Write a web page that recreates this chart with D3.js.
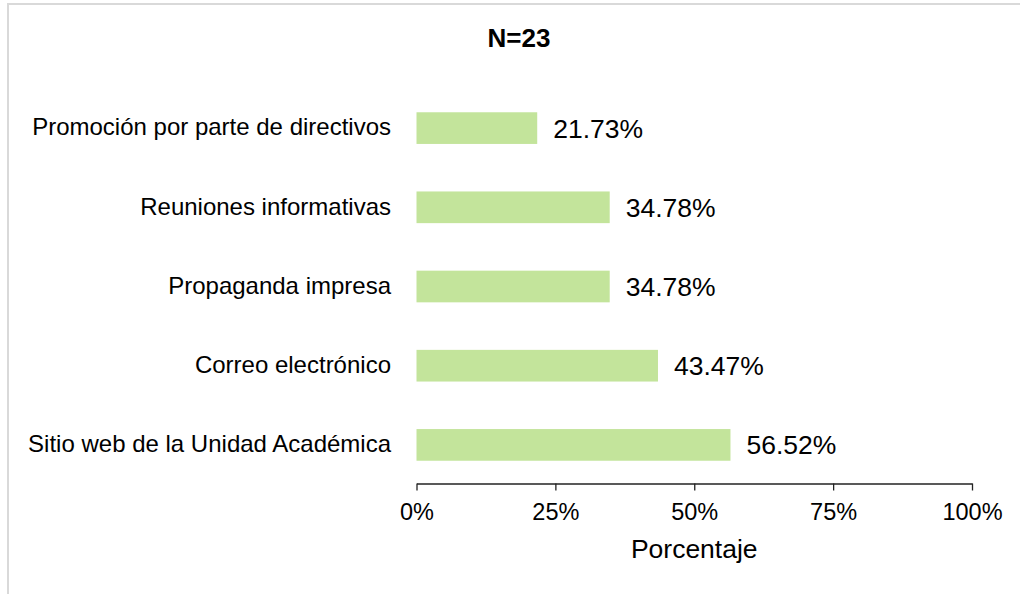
<!DOCTYPE html>
<html>
<head>
<meta charset="utf-8">
<script src="https://cdn.jsdelivr.net/npm/d3@7"></script>
<style>
  body { margin: 0; background: #fff; }
  svg text { font-family: "Liberation Sans", Arial, sans-serif; fill: #000; }
</style>
</head>
<body>
<svg id="plot" width="1020" height="594"></svg>
<script>
// chart data
const CATEGORIES = ['Promoción por parte de directivos', 'Reuniones informativas', 'Propaganda impresa', 'Correo electrónico', 'Sitio web de la Unidad Académica'];
const VALUES = [21.73, 34.78, 34.78, 43.47, 56.52];
const TICKS = [0, 25, 50, 75, 100];
const TITLE = 'N=23';
const X_TITLE = 'Porcentaje';

const svg = d3.select('#plot');

// light frame, only top and left edges fall inside the window
svg.append('rect')
    .attr('x', 8).attr('y', 4)
    .attr('width', 1030).attr('height', 620)
    .attr('fill', 'none')
    .attr('stroke', '#d9d9d9')
    .attr('stroke-width', 2);

const x = d3.scaleLinear().domain([0, 100]).range([416.5, 972]);
const y = d3.scaleBand()
    .domain(CATEGORIES)
    .range([88.5, 484.5])
    .paddingInner(0.6)
    .paddingOuter(0.3);

svg.selectAll('rect.bar')
    .data(VALUES)
    .enter()
    .append('rect')
        .attr('class', 'bar')
        .attr('x', x(0))
        .attr('y', (d, i) => y(CATEGORIES[i]))
        .attr('width', d => x(d) - x(0))
        .attr('height', y.bandwidth())
        .attr('fill', '#c3e49b');

// value labels
svg.selectAll('text.val')
    .data(VALUES)
    .enter()
    .append('text')
        .attr('class', 'val')
        .attr('x', d => x(d) + 16)
        .attr('y', (d, i) => y(CATEGORIES[i]) + y.bandwidth() / 2)
        .attr('dy', '0.36em')
        .style('font-size', '26.5px')
        .text(d => d.toFixed(2) + '%');

// category labels
svg.selectAll('text.cat')
    .data(CATEGORIES)
    .enter()
    .append('text')
        .attr('class', 'cat')
        .attr('x', 391)
        .attr('y', d => y(d) + y.bandwidth() / 2)
        .attr('dy', '0.3em')
        .attr('text-anchor', 'end')
        .style('font-size', '24px')
        .text(d => d);

// x axis
const axis = svg.append('g')
    .attr('transform', 'translate(0,483.5)')
    .call(d3.axisBottom(x).tickValues(TICKS).tickSize(7).tickSizeOuter(0).tickFormat(d => d + '%'));
axis.select('.domain').attr('stroke', '#222').attr('stroke-width', 1.3);
axis.selectAll('.tick line').attr('stroke', '#222').attr('stroke-width', 1.3);
axis.selectAll('.tick text')
    .attr('y', 36)
    .attr('dy', 0)
    .style('font-size', '23.5px')
    .style('font-family', '"Liberation Sans", Arial, sans-serif')
    .attr('fill', '#000');

svg.append('text')
    .attr('x', (x(0) + x(100)) / 2)
    .attr('y', 558)
    .attr('text-anchor', 'middle')
    .style('font-size', '26.5px')
    .text(X_TITLE);

svg.append('text')
    .attr('x', 519)
    .attr('y', 47)
    .attr('text-anchor', 'middle')
    .style('font-size', '26px')
    .style('font-weight', 'bold')
    .text(TITLE);
</script>
</body>
</html>
